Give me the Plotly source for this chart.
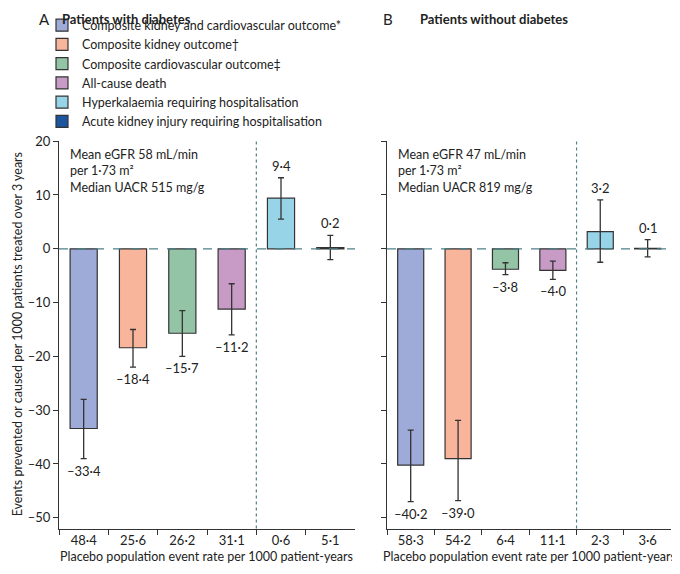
import plotly.graph_objects as go

OUTCOMES = [
    "Composite kidney and cardiovascular outcome*",
    "Composite kidney outcome†",
    "Composite cardiovascular outcome‡",
    "All-cause death",
    "Hyperkalaemia requiring hospitalisation",
    "Acute kidney injury requiring hospitalisation",
]
COLORS = ["#9eaad8", "#f8b59c", "#94c4a6", "#c79bc5", "#97d4e8", "#1d56a0"]

# Patients with diabetes
rate_a = ["48·4", "25·6", "26·2", "31·1", "0·6", "5·1"]
value_a = [-33.4, -18.4, -15.7, -11.2, 9.4, 0.2]
low_a = [-39.0, -22.0, -20.0, -16.0, 5.5, -2.0]
high_a = [-28.0, -15.0, -11.5, -6.5, 13.2, 2.5]

# Patients without diabetes
rate_b = ["58·3", "54·2", "6·4", "11·1", "2·3", "3·6"]
value_b = [-40.2, -39.0, -3.8, -4.0, 3.2, 0.1]
low_b = [-47.0, -46.8, -4.8, -5.7, -2.5, -1.5]
high_b = [-33.7, -31.9, -2.6, -2.3, 9.1, 1.7]

FONT = "Lato"
INK = "#222222"
DASH = "#4f8088"

# the page body has an 8px margin, so the figure is drawn slightly smaller
W, H = 664, 558


def px(x):
    return x / W


def py(y):
    return 1 - y / H


fig = go.Figure()


def fmt(v):
    s = f"{abs(v):.1f}".replace(".", "·")
    return ("–" if v < 0 else "") + s


def add_panel(rates, values, lows, highs, xa, ya, legend):
    for i, (r, v, lo, hi) in enumerate(zip(rates, values, lows, highs)):
        fig.add_trace(go.Bar(
            x=[r], y=[v], name=OUTCOMES[i], xaxis=xa, yaxis=ya,
            marker=dict(color=COLORS[i], line=dict(color="#333", width=1.2)),
            width=0.55, showlegend=legend,
            error_y=dict(type="data", symmetric=False, array=[hi - v],
                         arrayminus=[v - lo], color="#333", thickness=1.3, width=3),
        ))
        if v < 0:
            fig.add_annotation(x=r, y=lo, text=fmt(v), xref=xa, yref=ya,
                               showarrow=False, yanchor="top", yshift=-2,
                               font=dict(size=13, color=INK))
        else:
            fig.add_annotation(x=r, y=hi, text=fmt(v), xref=xa, yref=ya,
                               showarrow=False, yanchor="bottom", yshift=2,
                               font=dict(size=13, color=INK))


add_panel(rate_a, value_a, low_a, high_a, "x", "y", True)
add_panel(rate_b, value_b, low_b, high_b, "x2", "y2", False)

YDOM = [py(520), py(127)]
axis_common = dict(showline=True, linecolor="#333", linewidth=1.2, ticks="outside",
                   tickcolor="#333", ticklen=5, showgrid=False, zeroline=False,
                   tickfont=dict(size=13, color=INK))
YTICKS = [20, 10, 0, -10, -20, -30, -40, -50]

fig.update_layout(
    width=W, height=H, margin=dict(l=0, r=0, t=0, b=0),
    paper_bgcolor="white", plot_bgcolor="white",
    font=dict(family=FONT, color=INK), barmode="overlay",
    xaxis=dict(domain=[px(51), px(347)], type="category", tickson="boundaries",
               anchor="y", **axis_common),
    xaxis2=dict(domain=[px(379), 0.999], type="category", tickson="boundaries",
                anchor="y2", **axis_common),
    yaxis=dict(domain=YDOM, range=[-52, 20], tickvals=YTICKS,
               ticktext=["20", "10", "0", "–10", "–20", "–30", "–40", "–50"],
               anchor="x", **axis_common),
    yaxis2=dict(domain=YDOM, range=[-52, 20], tickvals=YTICKS,
                showticklabels=False, anchor="x2", **axis_common),
    legend=dict(x=px(34), y=1.01, xanchor="left", yanchor="top",
                font=dict(size=12.5, color=INK), tracegroupgap=0,
                itemwidth=30, bgcolor="rgba(0,0,0,0)"),
    showlegend=True,
)

# dashed reference lines and axis titles
for xa, ya in [("x", "y"), ("x2", "y2")]:
    fig.add_shape(type="line", xref=f"{xa} domain", yref=ya, x0=0, x1=1, y0=0, y1=0,
                  line=dict(color=DASH, width=1.2, dash="dash"))
    fig.add_shape(type="line", xref=xa, yref=f"{ya} domain", x0=3.5, x1=3.5, y0=0, y1=1,
                  line=dict(color=DASH, width=1.2, dash="dot"))
    fig.add_annotation(text="Placebo population event rate per 1000 patient-years",
                       xref=f"{xa} domain", yref="paper", x=0.5, y=py(548),
                       yanchor="middle", showarrow=False, font=dict(size=12.5, color=INK))

fig.add_annotation(text="Mean eGFR 58 mL/min<br>per 1·73 m²<br>Median UACR 515 mg/g",
                   xref="x domain", yref="y domain", x=0.03, y=0.99, xanchor="left",
                   yanchor="top", align="left", showarrow=False, font=dict(size=12.5))
fig.add_annotation(text="Mean eGFR 47 mL/min<br>per 1·73 m²<br>Median UACR 819 mg/g",
                   xref="x2 domain", yref="y2 domain", x=0.03, y=0.99, xanchor="left",
                   yanchor="top", align="left", showarrow=False, font=dict(size=12.5))

fig.add_annotation(text="Events prevented or caused per 1000 patients treated over 3 years",
                   xref="paper", yref="paper", x=0.0, y=(YDOM[0] + YDOM[1]) / 2,
                   textangle=-90, xanchor="left", showarrow=False, font=dict(size=12.5))

for label, x, size, bold in [("A", 29, 15, False), ("Patients with diabetes", 52, 13, True),
                             ("B", 373, 15, False), ("Patients without diabetes", 410, 13, True)]:
    fig.add_annotation(text=f"<b>{label}</b>" if bold else label, xref="paper", yref="paper",
                       x=px(x), y=py(3), xanchor="left", yanchor="middle",
                       showarrow=False, font=dict(size=size))

fig.write_html("out.html")
